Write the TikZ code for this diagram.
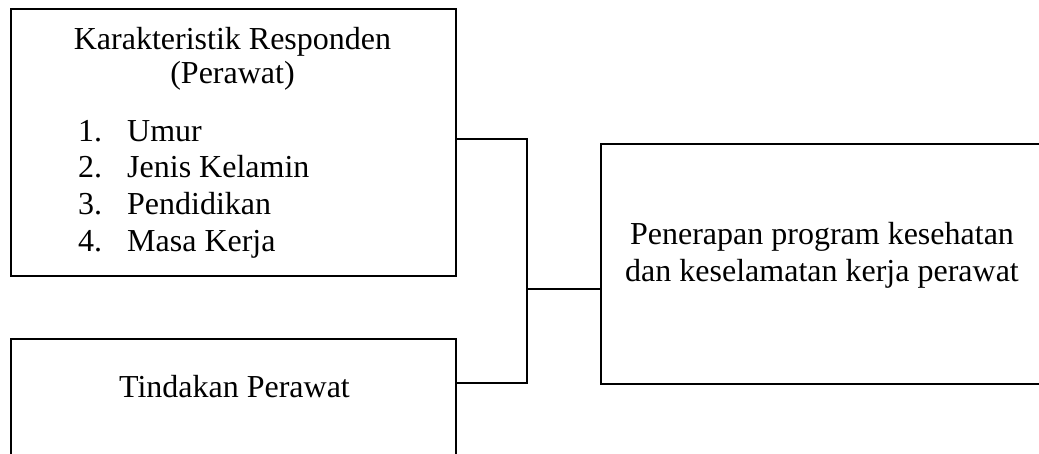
\documentclass[tikz,border=0pt]{standalone}
\usepackage{fontspec}
\setmainfont{Liberation Serif}
\begin{document}
\begin{tikzpicture}[x=1pt,y=-1pt,
  box/.style={draw=black, line width=1.6pt, inner sep=0pt, anchor=north west},
  txt/.style={font=\fontsize{32}{37}\selectfont, inner sep=0pt},
  link/.style={draw=black, line width=1.6pt}]
\useasboundingbox (0,0) rectangle (1039,454);
\clip (0,0) rectangle (1039,454);

% boxes
\node[box, minimum width=445pt, minimum height=267pt] (resp) at (10,8) {};
\node[box, minimum width=445pt, minimum height=170pt] (act) at (10,338) {};
\node[box, minimum width=444pt, minimum height=240pt] (out) at (600,143) {};

% text of the respondent box
\node[txt, anchor=base] (r1) at (232.5,50) {Karakteristik Responden};
\node[txt, anchor=base] (r2) at (232.5,84) {(Perawat)};
\node[txt, anchor=base west] (n1) at (78,141.5) {1.};
\node[txt, anchor=base west] (n2) at (78,178) {2.};
\node[txt, anchor=base west] (n3) at (78,215) {3.};
\node[txt, anchor=base west] (n4) at (78,251.5) {4.};
\node[txt, anchor=base west] (i1) at (127,141.5) {Umur};
\node[txt, anchor=base west] (i2) at (127,178) {Jenis Kelamin};
\node[txt, anchor=base west] (i3) at (127,215) {Pendidikan};
\node[txt, anchor=base west] (i4) at (127,251.5) {Masa Kerja};

% text of the action box
\node[txt, anchor=base] (a1) at (234.5,397) {Tindakan Perawat};

% text of the outcome box
\node[txt, anchor=base] (o1) at (822,245) {Penerapan program kesehatan};
\node[txt, anchor=base] (o2) at (822,282) {dan keselamatan kerja perawat};

% connectors
\coordinate (jtop) at (527,139);
\coordinate (jbot) at (527,383);
\coordinate (jmid) at (527,289);
\draw[link] (resp.east |- jtop) -- (jtop) -- (jbot) -- (act.east |- jbot);
\draw[link] (jmid) -- (out.west |- jmid);
\end{tikzpicture}
\end{document}
